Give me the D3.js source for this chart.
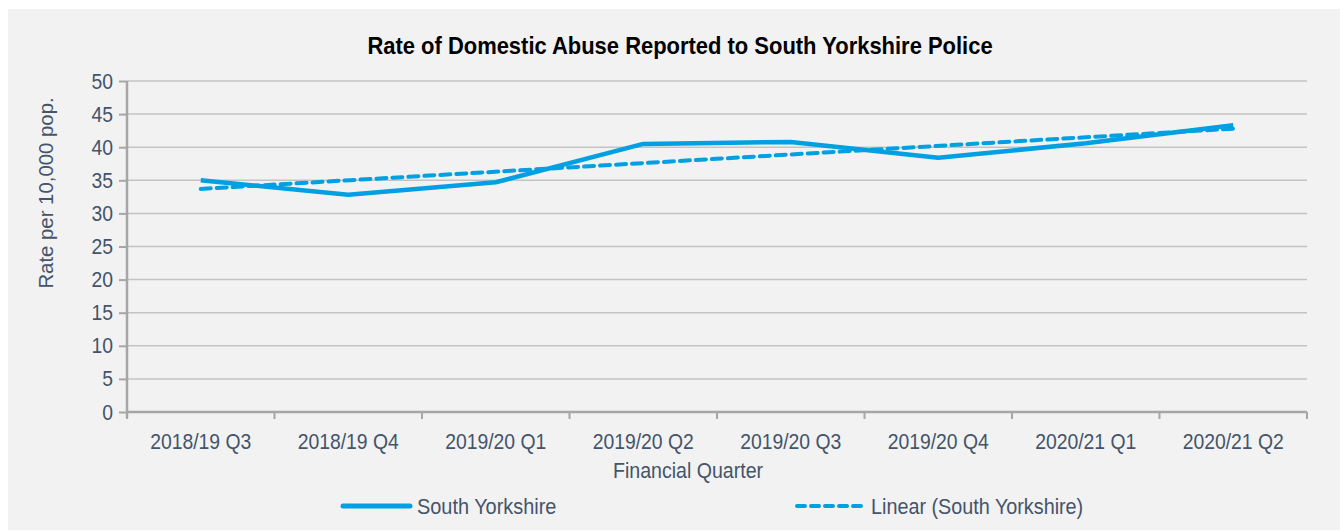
<!DOCTYPE html>
<html>
<head>
<meta charset="utf-8">
<script src="https://cdn.jsdelivr.net/npm/d3@7"></script>
<style>
  body { margin: 0; background: #fff; }
  svg { display: block; }
  text { font-family: "Liberation Sans", Arial, sans-serif; }
</style>
</head>
<body>
<div id="chart-area"></div>
<script>
// data
var quarters = ["2018/19 Q3", "2018/19 Q4", "2019/20 Q1", "2019/20 Q2",
                "2019/20 Q3", "2019/20 Q4", "2020/21 Q1", "2020/21 Q2"];
var rates = [35.0, 32.8, 34.7, 40.5, 40.8, 38.4, 40.6, 43.3];
// linear trend line, start and end values
var trendQuarters = ["2018/19 Q3", "2020/21 Q2"];
var trendRates = [33.7, 42.8];
var yTicks = [0, 5, 10, 15, 20, 25, 30, 35, 40, 45, 50];

var svgWidth = 1341, svgHeight = 531;
var margin = {top: 81, right: 34, bottom: 119, left: 127};
var chartWidth = svgWidth - margin.left - margin.right;
var chartHeight = svgHeight - margin.top - margin.bottom;

var lineColor = "#00a0e3";
var textColor = "#44546a";

// squeeze text horizontally, the original uses a narrow font
function narrowText(parent, x, y, sx, rot) {
    var g = parent.append("g")
        .attr("transform", `translate(${x},${y})` + (rot ? ` rotate(${rot})` : "") + ` scale(${sx},1)`);
    return g.append("text");
}

var svg = d3.select("#chart-area").append("svg")
    .attr("width", svgWidth)
    .attr("height", svgHeight);

svg.append("rect")
    .attr("x", 8).attr("y", 9)
    .attr("width", 1332).attr("height", 521)
    .attr("fill", "#f2f2f2");

narrowText(svg, 680, 54, 0.955)
    .attr("text-anchor", "middle")
    .attr("font-size", "23px")
    .attr("font-weight", "bold")
    .attr("fill", "#000")
    .text("Rate of Domestic Abuse Reported to South Yorkshire Police");

var chartGroup = svg.append("g")
    .attr("transform", `translate(${margin.left},${margin.top})`);

var xScale = d3.scaleBand()
    .domain(quarters)
    .range([0, chartWidth]);

var yScale = d3.scaleLinear()
    .domain([0, 50])
    .range([chartHeight, 0]);

// gridlines
chartGroup.append("g")
    .selectAll("line")
    .data(yTicks.filter(d => d > 0))
    .enter().append("line")
    .attr("x1", 0).attr("x2", chartWidth)
    .attr("y1", d => yScale(d)).attr("y2", d => yScale(d))
    .attr("stroke", "#c3c3c3")
    .attr("stroke-width", 1.5);

var leftAxis = d3.axisLeft(yScale)
    .tickValues(yTicks)
    .tickSize(8)
    .tickPadding(6);

var yAxis = chartGroup.append("g").call(leftAxis);
yAxis.select(".domain").attr("stroke", "#a6a6a6").attr("stroke-width", 2.5)
    .attr("d", `M0,0V${chartHeight + 6}`);
yAxis.selectAll(".tick line").attr("stroke", "#a6a6a6").attr("stroke-width", 2);
yAxis.selectAll(".tick text")
    .attr("fill", textColor)
    .attr("font-size", "22px")
    .attr("font-family", "Liberation Sans, Arial, sans-serif")
    .attr("transform", "scale(0.88,1)")
    .attr("x", -14 / 0.88);

// x axis with ticks at band edges
var xAxis = chartGroup.append("g")
    .attr("transform", `translate(0,${chartHeight})`);
xAxis.append("line")
    .attr("x1", 0).attr("x2", chartWidth)
    .attr("stroke", "#a6a6a6").attr("stroke-width", 2.5);
var edges = quarters.map(d => xScale(d)).concat([chartWidth]);
xAxis.selectAll(".xtick")
    .data(edges)
    .enter().append("line")
    .attr("class", "xtick")
    .attr("x1", d => d).attr("x2", d => d)
    .attr("y1", 0).attr("y2", 7)
    .attr("stroke", "#a6a6a6").attr("stroke-width", 2);
quarters.forEach(q => {
    narrowText(xAxis, xScale(q) + xScale.bandwidth() / 2, 37, 0.88)
        .attr("text-anchor", "middle")
        .attr("font-size", "22px")
        .attr("fill", textColor)
        .text(q);
});

// axis titles
narrowText(svg, 53, 193, 0.97, -90)
    .attr("text-anchor", "middle")
    .attr("font-size", "21px")
    .attr("fill", textColor)
    .text("Rate per 10,000 pop.");

narrowText(svg, 688, 478, 0.89)
    .attr("text-anchor", "middle")
    .attr("font-size", "22px")
    .attr("fill", textColor)
    .text("Financial Quarter");

var line = d3.line()
    .x(d => xScale(d[0]) + xScale.bandwidth() / 2)
    .y(d => yScale(d[1]));

chartGroup.append("path")
    .datum(quarters.map((q, i) => [q, rates[i]]))
    .attr("d", line)
    .attr("fill", "none")
    .attr("stroke", lineColor)
    .attr("stroke-width", 4.5)
    .attr("stroke-linejoin", "round");

chartGroup.append("path")
    .datum(trendQuarters.map((q, i) => [q, trendRates[i]]))
    .attr("d", line)
    .attr("fill", "none")
    .attr("stroke", lineColor)
    .attr("stroke-width", 4)
    .attr("stroke-dasharray", "10,6")
    .attr("stroke-linecap", "round");

// legend
var legend = svg.append("g").attr("transform", "translate(0,506)");
legend.append("line")
    .attr("x1", 343).attr("x2", 410)
    .attr("stroke", lineColor).attr("stroke-width", 5).attr("stroke-linecap", "round");
narrowText(legend, 417, 8, 0.905)
    .attr("font-size", "22px").attr("fill", textColor)
    .text("South Yorkshire");
legend.append("line")
    .attr("x1", 797).attr("x2", 863)
    .attr("stroke", lineColor).attr("stroke-width", 4)
    .attr("stroke-dasharray", "8,6").attr("stroke-linecap", "round");
narrowText(legend, 871, 8, 0.9)
    .attr("font-size", "22px").attr("fill", textColor)
    .text("Linear (South Yorkshire)");
</script>
</body>
</html>
